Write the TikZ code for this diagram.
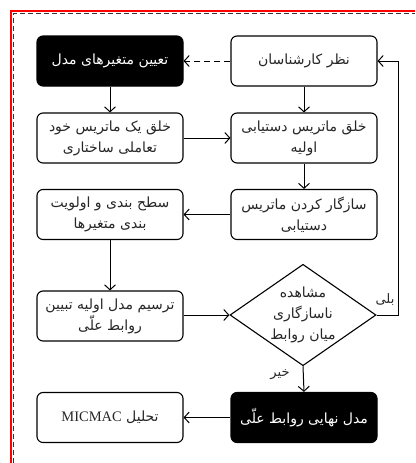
\documentclass[tikz,border=0pt]{standalone}
\usepackage{fontspec}
\setmainfont{Liberation Serif}
\newfontfamily\arabicfont[Script=Arabic]{DejaVu Sans}
\TeXXeTstate=1
\usetikzlibrary{shapes.geometric,arrows.meta}
\tikzset{
  box/.style={draw=black, line width=1.1pt, rounded corners=6pt, minimum width=146pt, minimum height=50pt, inner sep=2pt, align=center, font=\arabicfont\fontsize{14}{21}\selectfont, text=black!85},
  darkbox/.style={box, fill=black, text=white},
  decide/.style={draw=black, line width=1.1pt, diamond, aspect=1.44, minimum width=144pt, minimum height=100pt, inner sep=0pt, align=center, font=\arabicfont\fontsize{14}{21}\selectfont, text=black!85},
  conn/.style={line width=1pt, -{Straight Barb[length=5pt,width=11pt,line width=1pt]}},
  lbl/.style={font=\arabicfont\fontsize{13}{15}\selectfont, text=black!85, inner sep=0pt}
}
\begin{document}
\begin{tikzpicture}[x=1pt,y=-1pt]
\useasboundingbox (0,0) rectangle (415,463);
% frame
\draw[red, line width=1.6pt] (11,463) -- (11,11) -- (415,11);
\draw[black!80, line width=1.3pt, dash pattern=on 5pt off 3pt] (13.5,463) -- (13.5,13.5) -- (415,13.5);
% nodes
\node[darkbox] (vars) at (110,61) {\beginR تعیین متغیرهای مدل\endR};
\node[box] (expert) at (304,61) {\beginR نظر کارشناسان\endR};
\node[box] (ssim) at (110,138) {\beginR خلق یک ماتریس خود\endR\\\beginR تعاملی ساختاری\endR};
\node[box] (initial) at (304,138) {\beginR خلق ماتریس دستیابی\endR\\\beginR اولیه\endR};
\node[box] (levels) at (110,214.5) {\beginR سطح بندی و اولویت\endR\\\beginR بندی متغیرها\endR};
\node[box] (consist) at (304,214.5) {\beginR سازگار کردن ماتریس\endR\\\beginR دستیابی\endR};
\node[box] (draft) at (110,316) {\beginR ترسیم مدل اولیه تبیین\endR\\\beginR روابط علّی\endR};
\node[decide] (check) at (303,315) {\beginR مشاهده\endR\\\beginR ناسازگاری\endR\\\beginR میان روابط\endR};
\node[box] (micmac) at (110,417.5) {\beginR تحلیل \beginL{\rmfamily\fontsize{14.5}{16}\selectfont MICMAC}\endL\endR};
\node[darkbox] (final) at (304,417.5) {\beginR مدل نهایی روابط علّی\endR};
\coordinate (fbA) at (398,315);
\coordinate (fbB) at (398,61);
% connectors
\draw[conn, dash pattern=on 6pt off 4pt] (expert.west) -- (vars.east);
\draw[conn] (vars.south) -- (ssim.north);
\draw[conn] (expert.south) -- (initial.north);
\draw[conn] (ssim.east) -- (initial.west);
\draw[conn] (initial.south) -- (consist.north);
\draw[conn] (consist.west) -- (levels.east);
\draw[conn] (levels.south) -- (draft.north);
\draw[conn] (draft.east |- check.west) -- (check.west);
\draw[conn] (check.south) -- (final.north);
\draw[conn] (final.west) -- (micmac.east);
\draw[conn] (check.east) -- (fbA) -- (fbB) -- (expert.east);
% labels
\node[lbl] (yes) at (385,300) {\beginR بلی\endR};
\node[lbl] (no) at (280,375) {\beginR خیر\endR};
\end{tikzpicture}
\end{document}
